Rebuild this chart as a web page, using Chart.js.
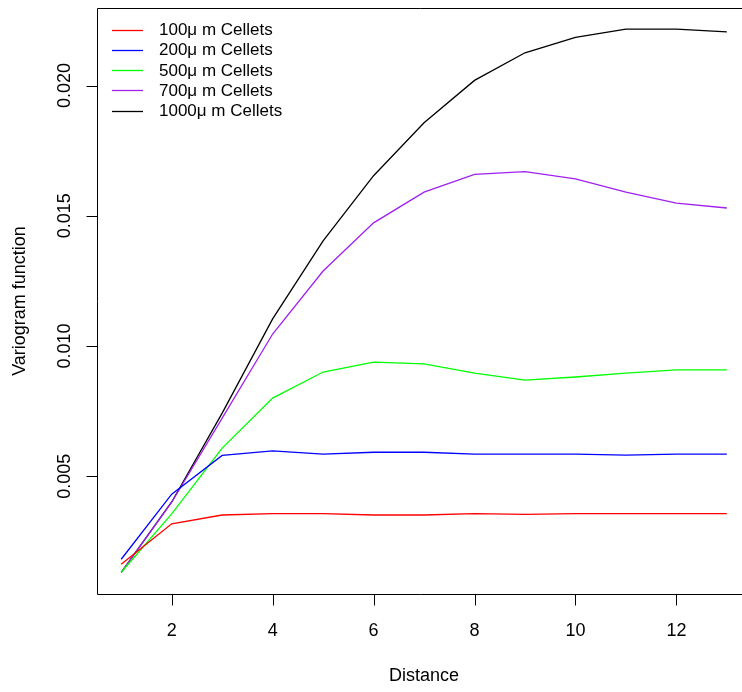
<!DOCTYPE html>
<html>
<head>
<meta charset="utf-8">
<script src="https://cdn.jsdelivr.net/npm/chart.js@4.4.1/dist/chart.umd.min.js"></script>
<style>
html,body{margin:0;padding:0;background:#fff;overflow:hidden;width:742px;height:692px;}
canvas{display:block;}
</style>
</head>
<body>
<canvas id="c" width="742" height="692"></canvas>
<script>
const distances = [1,2,3,4,5,6,7,8,9,10,11,12,13];
const seriesLabels = ["100\u03bc m Cellets","200\u03bc m Cellets","500\u03bc m Cellets","700\u03bc m Cellets","1000\u03bc m Cellets"];
const cellets100  = [0.00162,0.00317,0.00351,0.00356,0.00356,0.00351,0.00351,0.00356,0.00353,0.00356,0.00356,0.00356,0.00356];
const cellets200  = [0.00181,0.00431,0.00580,0.00597,0.00585,0.00592,0.00592,0.00585,0.00585,0.00585,0.00581,0.00585,0.00585];
const cellets500  = [0.00131,0.00355,0.00608,0.00800,0.00900,0.00938,0.00931,0.00896,0.00869,0.00881,0.00896,0.00908,0.00908];
const cellets700  = [0.00131,0.00400,0.00723,0.01046,0.01288,0.01473,0.01591,0.01659,0.01670,0.01642,0.01591,0.01549,0.01530];
const cellets1000 = [0.00131,0.00401,0.00742,0.01104,0.01404,0.01654,0.01857,0.02020,0.02126,0.02185,0.02217,0.02217,0.02206];
const xTicks = [2,4,6,8,10,12];
const yTicks = [0.005,0.010,0.015,0.020];
const yTickLabels = ["0.005","0.010","0.015","0.020"];
const xTitle = "Distance";
const yTitle = "Variogram function";
const colors = ["#FF0000","#0000FF","#00FF00","#A020F0","#000000"];
const allSeries = [cellets100,cellets200,cellets500,cellets700,cellets1000];

const FONT = '18px "Liberation Sans", Arial, sans-serif';
const LFONT = '17px "Liberation Sans", Arial, sans-serif';

const rAxes = {
  id: 'rAxes',
  afterDraw(chart) {
    const ctx = chart.ctx, a = chart.chartArea;
    const xs = chart.scales.x, ys = chart.scales.y;
    ctx.save();
    ctx.strokeStyle = '#000'; ctx.lineWidth = 1;
    const lft = Math.round(a.left)+0.5;
    const top = Math.round(a.top)+0.5;
    const bot = Math.round(a.bottom)+0.5;
    // plot frame (its right side lies beyond the window)
    ctx.beginPath();
    ctx.moveTo(a.right+10, top); ctx.lineTo(lft, top); ctx.lineTo(lft, bot); ctx.lineTo(a.right+10, bot);
    ctx.stroke();
    ctx.fillStyle = '#000';
    ctx.font = FONT; ctx.textAlign = 'center'; ctx.textBaseline = 'middle';
    ctx.beginPath();
    xTicks.forEach(v => {
      const px = Math.round(xs.getPixelForValue(v))+0.5;
      ctx.moveTo(px, bot); ctx.lineTo(px, bot+11);
    });
    ctx.stroke();
    xTicks.forEach(v => {
      ctx.fillText(String(v), xs.getPixelForValue(v), bot+37);
    });
    ctx.beginPath();
    yTicks.forEach(v => {
      const py = Math.round(ys.getPixelForValue(v))+0.5;
      ctx.moveTo(lft, py); ctx.lineTo(lft-11, py);
    });
    ctx.stroke();
    yTicks.forEach((v,i) => {
      const py = ys.getPixelForValue(v);
      ctx.save();
      ctx.translate(lft-32, py);
      ctx.rotate(-Math.PI/2);
      ctx.fillText(yTickLabels[i], 0, 0);
      ctx.restore();
    });
    ctx.fillText(xTitle, 424, 676);
    ctx.save();
    ctx.translate(20, (a.top+a.bottom)/2);
    ctx.rotate(-Math.PI/2);
    ctx.fillText(yTitle, 0, 0);
    ctx.restore();
    ctx.font = LFONT; ctx.textAlign = 'left';
    chart.data.datasets.forEach((ds,i) => {
      const y = 29.5 + i*20.3;
      ctx.strokeStyle = ds.borderColor; ctx.lineWidth = 1.3;
      ctx.beginPath(); ctx.moveTo(112, Math.round(y)+0.5); ctx.lineTo(143, Math.round(y)+0.5); ctx.stroke();
      ctx.fillText(ds.label, 159, y+1);
    });
    ctx.restore();
  }
};

new Chart(document.getElementById('c'), {
  type: 'line',
  data: {
    datasets: allSeries.map((s,i) => ({
      label: seriesLabels[i],
      data: distances.map((d,j) => ({x:d, y:s[j]})),
      borderColor: colors[i],
      borderWidth: 1.3,
      pointRadius: 0,
      fill: false,
      tension: 0
    }))
  },
  options: {
    responsive: false,
    animation: false,
    devicePixelRatio: 1,
    layout: { padding: { left: 97, top: 8, right: 0, bottom: 98 } },
    plugins: { legend: { display: false }, tooltip: { enabled: false } },
    scales: {
      x: { type: 'linear', display: false, min: 0.52, max: 13.30 },
      y: { type: 'linear', display: false, min: 0.000476, max: 0.02298 }
    }
  },
  plugins: [rAxes]
});
</script>
</body>
</html>
